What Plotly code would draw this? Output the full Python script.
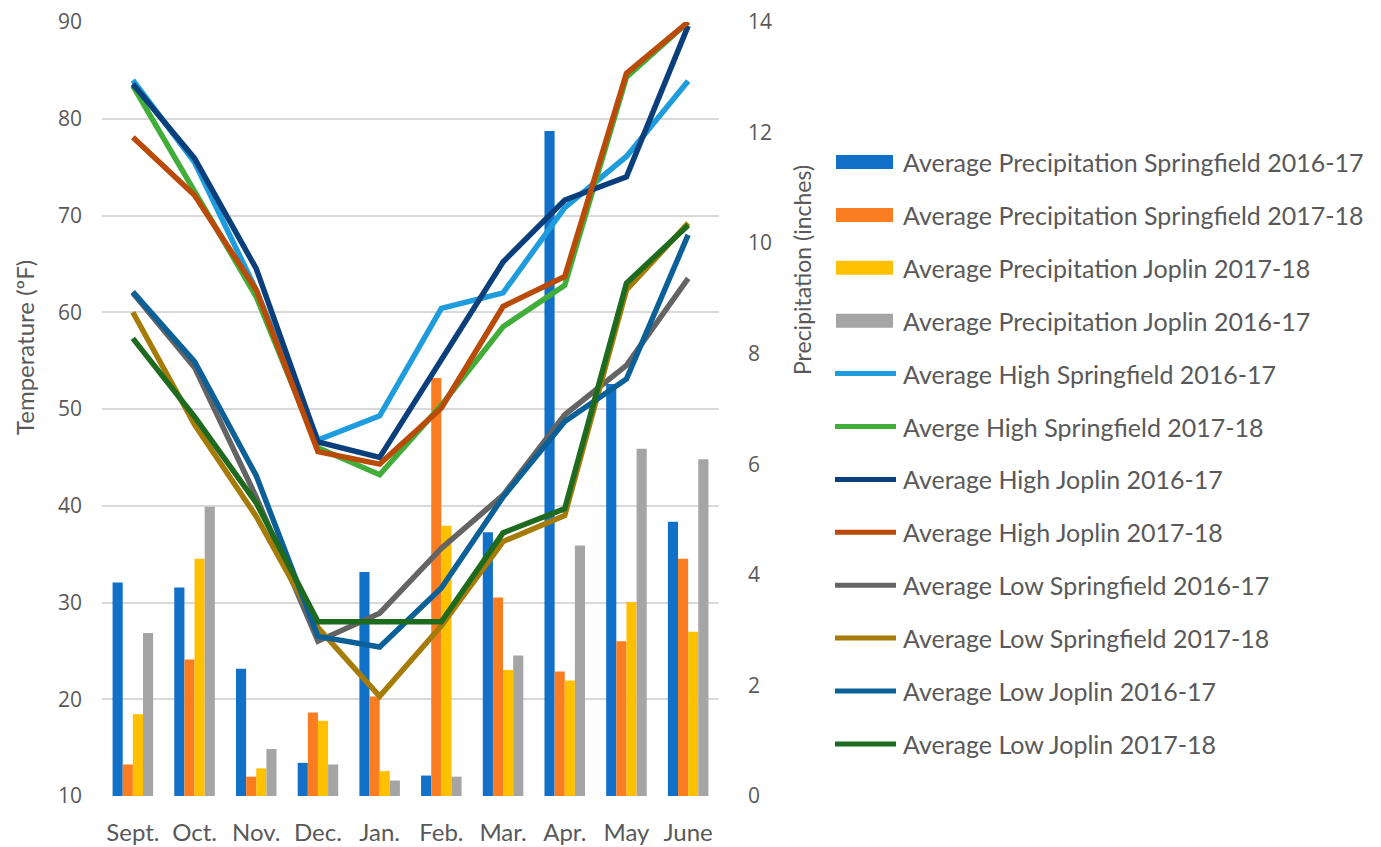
import plotly.graph_objects as go

# ---- data -------------------------------------------------------------
months = ["Sept.", "Oct.", "Nov.", "Dec.", "Jan.", "Feb.", "Mar.", "Apr.", "May", "June"]

# monthly precipitation (inches)
precip_sgf_1617 = [3.86, 3.77, 2.30, 0.60, 4.05, 0.37, 4.77, 12.03, 7.45, 4.96]
precip_sgf_1718 = [0.57, 2.47, 0.35, 1.51, 1.80, 7.56, 3.59, 2.25, 2.80, 4.29]
precip_jop_1718 = [1.48, 4.29, 0.50, 1.36, 0.45, 4.89, 2.28, 2.09, 3.51, 2.97]
precip_jop_1617 = [2.95, 5.23, 0.85, 0.57, 0.28, 0.35, 2.54, 4.53, 6.28, 6.09]

# monthly average temperatures (F)
high_sgf_1617 = [84.0, 75.5, 62.3, 46.8, 49.3, 60.4, 62.0, 70.8, 76.1, 83.9]
high_sgf_1718 = [83.4, 72.5, 61.6, 46.0, 43.2, 50.4, 58.5, 62.8, 84.3, 90.0]
high_jop_1617 = [83.6, 75.9, 64.5, 46.6, 45.0, 55.2, 65.2, 71.6, 74.0, 89.6]
high_jop_1718 = [78.1, 72.1, 62.3, 45.6, 44.3, 50.1, 60.6, 63.7, 84.7, 90.0]
low_sgf_1617 = [62.0, 54.3, 40.9, 26.0, 28.9, 35.6, 41.1, 49.4, 54.5, 63.5]
low_sgf_1718 = [60.0, 48.4, 38.9, 27.4, 20.3, 27.6, 36.3, 39.0, 62.3, 69.2]
low_jop_1617 = [62.1, 54.9, 43.1, 26.5, 25.4, 31.5, 40.9, 48.7, 53.1, 68.0]
low_jop_1718 = [57.3, 49.2, 40.3, 28.0, 28.0, 28.0, 37.2, 39.7, 63.0, 69.0]

bar_names = [
    "Average Precipitation Springfield 2016-17",
    "Average Precipitation Springfield 2017-18",
    "Average Precipitation Joplin 2017-18",
    "Average Precipitation Joplin 2016-17",
]
bar_values = [precip_sgf_1617, precip_sgf_1718, precip_jop_1718, precip_jop_1617]
bar_colors = ["#1170C8", "#FA7D22", "#FFC000", "#A5A5A5"]

line_names = [
    "Average High Springfield 2016-17",
    "Averge High Springfield 2017-18",
    "Average High Joplin 2016-17",
    "Average High Joplin 2017-18",
    "Average Low Springfield 2016-17",
    "Average Low Springfield 2017-18",
    "Average Low Joplin 2016-17",
    "Average Low Joplin 2017-18",
]
line_values = [high_sgf_1617, high_sgf_1718, high_jop_1617, high_jop_1718,
               low_sgf_1617, low_sgf_1718, low_jop_1617, low_jop_1718]
line_colors = ["#1E9CDD", "#42AE3A", "#0A3F7C", "#BA4A08",
               "#646464", "#A67B07", "#0B6097", "#1E6B1F"]

TEXT = "#595959"
GRID = "#D9D9D9"

# ---- figure -----------------------------------------------------------
fig = go.Figure()

for name, vals, col in zip(bar_names, bar_values, bar_colors):
    fig.add_trace(go.Bar(x=months, y=vals, name=name, marker=dict(color=col, line=dict(width=0)),
                         yaxis="y", showlegend=False))

for name, vals, col in zip(line_names, line_values, line_colors):
    fig.add_trace(go.Scatter(x=months, y=vals, name=name, mode="lines",
                             line=dict(color=col, width=5.5), yaxis="y2", showlegend=False))

# plot-area geometry in pixels
W, H = 1381, 847
L, R, T, B = 102, 719, 22, 796
pw, ph = R - L, B - T


def px(xp):
    return (xp - L) / pw


def py(yp):
    return (B - yp) / ph


fig.update_layout(
    width=W, height=H,
    margin=dict(l=L, r=W - R, t=T, b=H - B, pad=0, autoexpand=False),
    paper_bgcolor="white", plot_bgcolor="white",
    barmode="group", bargap=0.343, bargroupgap=0,
    showlegend=False,
    xaxis=dict(showgrid=False, showline=False, zeroline=False, ticks="", automargin=False,
               tickfont=dict(family="Lato", size=24, color=TEXT), ticklabelstandoff=20),
    yaxis=dict(side="right", range=[0, 14], dtick=2, showgrid=False, zeroline=False,
               showline=False, ticks="", ticklabelstandoff=28, automargin=False,
               tickfont=dict(family="Open Sans", size=21, color=TEXT)),
    yaxis2=dict(side="left", overlaying="y", range=[10, 90], dtick=10, showgrid=True,
                gridcolor=GRID, gridwidth=2, zeroline=False, showline=False, ticks="",
                automargin=False, ticklabelstandoff=19,
                tickfont=dict(family="Open Sans", size=21, color=TEXT)),
)

annotations = [
    dict(text="Temperature (ºF)", x=px(24), y=py(348), xref="paper", yref="paper",
         textangle=-90, showarrow=False, xanchor="center", yanchor="middle",
         font=dict(family="Lato", size=24, color=TEXT)),
    dict(text="Precipitation (inches)", x=px(802), y=py(270), xref="paper", yref="paper",
         textangle=-90, showarrow=False, xanchor="center", yanchor="middle",
         font=dict(family="Lato", size=23, color=TEXT)),
]
shapes = []

# legend, one row per series
leg_names = bar_names + line_names
leg_colors = bar_colors + line_colors
row0, row_step = 162, 52.9
for i, (name, col) in enumerate(zip(leg_names, leg_colors)):
    yc = row0 + i * row_step
    if i < len(bar_names):
        shapes.append(dict(type="rect", xref="paper", yref="paper",
                           x0=px(836), x1=px(893), y0=py(yc + 7), y1=py(yc - 7),
                           fillcolor=col, line=dict(width=0)))
    else:
        shapes.append(dict(type="line", xref="paper", yref="paper",
                           x0=px(835), x1=px(896), y0=py(yc), y1=py(yc),
                           line=dict(color=col, width=5)))
    annotations.append(dict(text=name, x=px(901), y=py(yc), xref="paper", yref="paper",
                            showarrow=False, xanchor="left", yanchor="middle",
                            font=dict(family="Lato", size=25, color=TEXT)))

fig.update_layout(annotations=annotations, shapes=shapes)

fig.write_html("out.html")
